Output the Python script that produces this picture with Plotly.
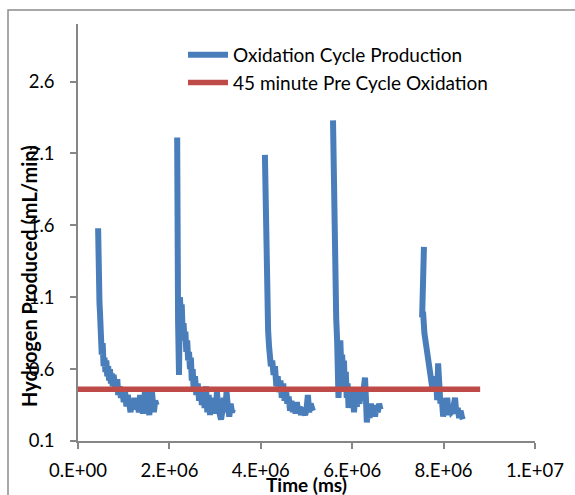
import plotly.graph_objects as go

# ---- data (time in millions of ms, hydrogen in mL/min) ----
c1_t = [0.44, 0.44, 0.44, 0.45, 0.45, 0.45, 0.46, 0.47, 0.48, 0.49, 0.50, 0.52, 0.54, 0.56, 0.58, 0.60,
        0.62, 0.64, 0.66, 0.68, 0.70, 0.72, 0.74, 0.76, 0.78, 0.80, 0.83, 0.86, 0.88, 0.91, 0.94, 0.97,
        1.00, 1.03, 1.06, 1.09, 1.12, 1.15, 1.18, 1.21, 1.24, 1.27, 1.30, 1.33, 1.36, 1.39, 1.42, 1.45,
        1.47, 1.50, 1.53, 1.56, 1.58, 1.61, 1.63, 1.66, 1.69, 1.72]
c1_h = [1.58, 1.50, 1.55, 1.35, 1.40, 1.27, 1.20, 1.06, 1.00, 0.90, 0.82, 0.70, 0.78, 0.62, 0.68, 0.58,
        0.66, 0.55, 0.62, 0.52, 0.60, 0.50, 0.57, 0.48, 0.56, 0.50, 0.45, 0.53, 0.42, 0.48, 0.40, 0.46,
        0.37, 0.44, 0.34, 0.42, 0.36, 0.30, 0.38, 0.33, 0.40, 0.32, 0.37, 0.30, 0.42, 0.35, 0.29, 0.38,
        0.47, 0.31, 0.36, 0.28, 0.33, 0.47, 0.40, 0.30, 0.38, 0.35]

c2_t = [2.17, 2.17, 2.18, 2.18, 2.19, 2.18, 2.18, 2.19, 2.21, 2.22, 2.23, 2.25, 2.27, 2.29, 2.31, 2.33,
        2.35, 2.37, 2.39, 2.41, 2.43, 2.45, 2.47, 2.49, 2.51, 2.53, 2.56, 2.59, 2.62, 2.65, 2.68, 2.71,
        2.74, 2.77, 2.80, 2.83, 2.86, 2.89, 2.92, 2.95, 2.98, 3.01, 3.04, 3.07, 3.10, 3.13, 3.16, 3.19,
        3.22, 3.25, 3.28, 3.31, 3.34, 3.37, 3.39]
c2_h = [2.21, 1.95, 1.84, 1.70, 1.55, 1.30, 1.00, 0.93, 0.56, 0.90, 1.10, 0.98, 1.05, 0.85, 0.92, 0.80,
        0.86, 0.72, 0.80, 0.66, 0.72, 0.60, 0.68, 0.52, 0.60, 0.46, 0.55, 0.42, 0.50, 0.38, 0.47, 0.35,
        0.45, 0.33, 0.48, 0.30, 0.42, 0.28, 0.40, 0.30, 0.36, 0.29, 0.44, 0.33, 0.28, 0.25, 0.31, 0.40,
        0.30, 0.44, 0.34, 0.27, 0.36, 0.30, 0.32]

c3_t = [4.09, 4.10, 4.11, 4.12, 4.13, 4.14, 4.15, 4.16, 4.18, 4.20, 4.22, 4.25, 4.28, 4.31, 4.34, 4.37,
        4.40, 4.43, 4.46, 4.49, 4.52, 4.55, 4.58, 4.61, 4.64, 4.67, 4.70, 4.73, 4.76, 4.79, 4.82, 4.85,
        4.88, 4.91, 4.94, 4.97, 5.00, 5.03, 5.06, 5.09, 5.12, 5.14]
c3_h = [2.09, 1.80, 1.60, 1.50, 1.52, 1.22, 1.05, 0.87, 0.76, 0.68, 0.62, 0.66, 0.56, 0.62, 0.48, 0.55,
        0.44, 0.52, 0.40, 0.50, 0.38, 0.46, 0.36, 0.41, 0.31, 0.38, 0.30, 0.36, 0.29, 0.37, 0.30, 0.34,
        0.28, 0.33, 0.30, 0.28, 0.32, 0.42, 0.30, 0.36, 0.33, 0.31]

c4_t = [5.58, 5.59, 5.60, 5.61, 5.62, 5.63, 5.65, 5.67, 5.69, 5.70, 5.72, 5.74, 5.76, 5.78, 5.80, 5.82,
        5.84, 5.86, 5.88, 5.90, 5.92, 5.95, 5.98, 6.01, 6.04, 6.07, 6.10, 6.13, 6.16, 6.19, 6.22, 6.25,
        6.28, 6.30, 6.32, 6.35, 6.38, 6.41, 6.44, 6.47, 6.50, 6.53, 6.56, 6.59, 6.62]
c4_h = [2.33, 2.00, 1.70, 1.43, 1.20, 1.08, 0.95, 0.80, 0.62, 0.40, 0.55, 0.80, 0.62, 0.70, 0.55, 0.66,
        0.45, 0.58, 0.40, 0.50, 0.33, 0.44, 0.36, 0.42, 0.30, 0.45, 0.34, 0.40, 0.36, 0.46, 0.38, 0.44,
        0.54, 0.40, 0.23, 0.32, 0.26, 0.36, 0.30, 0.35, 0.27, 0.34, 0.30, 0.36, 0.32]

c5_t = [7.57, 7.56, 7.57, 7.55, 7.56, 7.53, 7.55, 7.58, 7.61, 7.64, 7.67, 7.70, 7.72, 7.75, 7.78, 7.81,
        7.84, 7.86, 7.88, 7.90, 7.93, 7.96, 7.99, 8.02, 8.05, 8.08, 8.11, 8.14, 8.17, 8.20, 8.23, 8.25,
        8.28, 8.31, 8.34, 8.37, 8.40, 8.42]
c5_h = [1.45, 1.30, 1.38, 1.15, 1.20, 0.96, 1.00, 0.85, 0.78, 0.70, 0.66, 0.61, 0.55, 0.475, 0.55, 0.45,
        0.50, 0.385, 0.64, 0.42, 0.36, 0.40, 0.27, 0.35, 0.30, 0.40, 0.28, 0.33, 0.30, 0.31, 0.36, 0.40,
        0.29, 0.33, 0.26, 0.31, 0.27, 0.25]

pre_t = [0.0, 8.8]          # millions of ms
pre_h = [0.46, 0.46]

x_ticks = [0, 2e6, 4e6, 6e6, 8e6, 1e7]
x_ticktext = ["0.E+00", "2.E+06", "4.E+06", "6.E+06", "8.E+06", "1.E+07"]
y_ticks = [0.1, 0.6, 1.1, 1.6, 2.1, 2.6]
y_ticktext = ["0.1", "0.6", "1.1", "1.6", "2.1", "2.6"]

# ---- build traces ----
cycles = [(c1_t, c1_h), (c2_t, c2_h), (c3_t, c3_h), (c4_t, c4_h), (c5_t, c5_h)]
ox_x, ox_y = [], []
for t, h in cycles:
    ox_x += [v * 1e6 for v in t] + [None]
    ox_y += list(h) + [None]

BLUE = "#4A7EBB"
RED = "#BE4B48"
FONT = "Lato, 'Liberation Sans', Arial, sans-serif"

fig = go.Figure()
fig.add_trace(go.Scatter(x=ox_x, y=ox_y, mode="lines", name="Oxidation Cycle Production",
                         line=dict(color=BLUE, width=6), connectgaps=False))
fig.add_trace(go.Scatter(x=[v * 1e6 for v in pre_t], y=pre_h, mode="lines",
                         name="45 minute Pre Cycle Oxidation",
                         line=dict(color=RED, width=5.5)))

W, H = 575, 495
L, R, T, B = 78, 40, 24, 54
pw, ph = W - L - R, H - T - B

def px_to_paper_x(px):
    return (px - L) / pw

def px_to_paper_y(py):
    return (H - B - py) / ph

fig.update_layout(
    width=W, height=H,
    margin=dict(l=L, r=R, t=T, b=B, pad=0),
    paper_bgcolor="white", plot_bgcolor="white",
    font=dict(family=FONT, size=18, color="black"),
    showlegend=True,
    legend=dict(x=px_to_paper_x(183), y=px_to_paper_y(36), xanchor="left", yanchor="top",
                bgcolor="rgba(0,0,0,0)", font=dict(size=19), itemwidth=40,
                tracegroupgap=0),
    xaxis=dict(range=[0, 1e7], tickvals=x_ticks, ticktext=x_ticktext,
               showgrid=False, zeroline=False, showline=True, linecolor="#868686", linewidth=1.5,
               ticks="outside", ticklen=6, tickcolor="#868686", tickwidth=1.5,
               ticklabelstandoff=6, tickfont=dict(size=18.5)),
    yaxis=dict(range=[0.1, 3.0], tickvals=y_ticks, ticktext=y_ticktext,
               showgrid=False, zeroline=False, showline=True, linecolor="#868686", linewidth=1.5,
               ticks="outside", ticklen=6, tickcolor="#868686", tickwidth=1.5,
               ticklabelstandoff=12, tickfont=dict(size=18.5)),
    shapes=[
        dict(type="rect", xref="paper", yref="paper",
             x0=px_to_paper_x(8), x1=px_to_paper_x(600),
             y0=px_to_paper_y(520), y1=px_to_paper_y(10),
             line=dict(color="#8C8C8C", width=1.5), fillcolor="rgba(0,0,0,0)", layer="below"),
    ],
    annotations=[
        dict(text="<b>Time (ms)</b>", xref="paper", yref="paper",
             x=px_to_paper_x(306), y=px_to_paper_y(484), xanchor="center", yanchor="middle",
             showarrow=False, font=dict(size=19)),
        dict(text="<b>Hydrogen Produced (mL/min)</b>", xref="paper", yref="paper",
             x=px_to_paper_x(29), y=px_to_paper_y(276), xanchor="center", yanchor="middle",
             textangle=-90, showarrow=False, font=dict(size=20)),
    ],
)

fig.write_html("out.html")
